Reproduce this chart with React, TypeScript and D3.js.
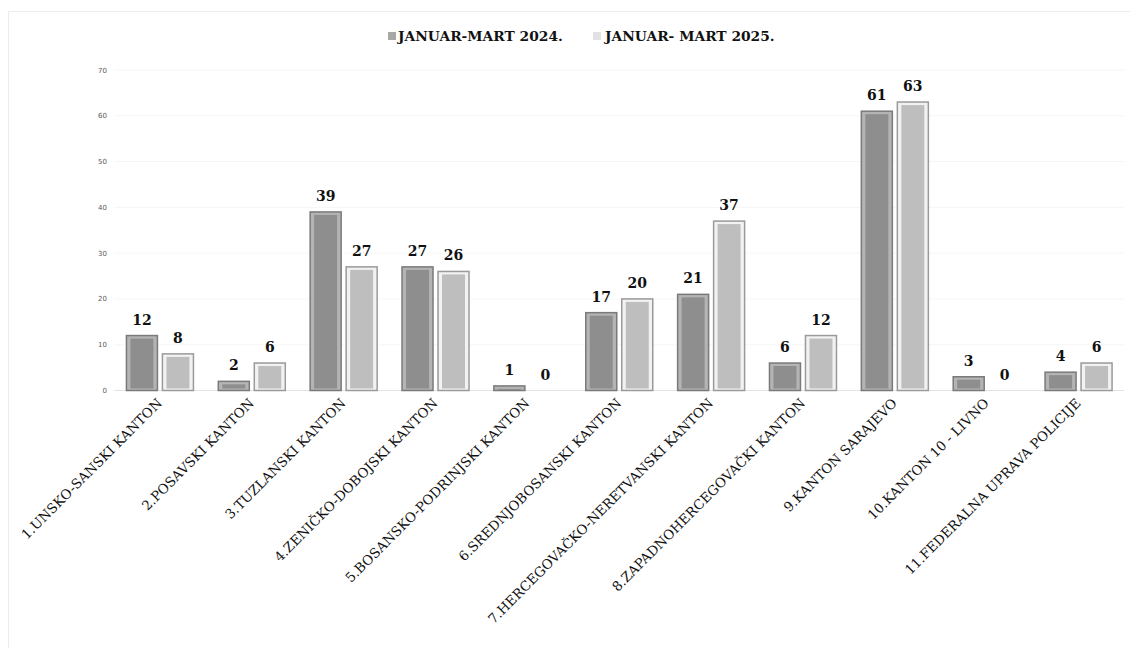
import React from 'react';
import * as d3 from 'd3';

const categories = [
  '1.UNSKO-SANSKI KANTON',
  '2.POSAVSKI KANTON',
  '3.TUZLANSKI KANTON',
  '4.ZENIČKO-DOBOJSKI KANTON',
  '5.BOSANSKO-PODRINJSKI KANTON',
  '6.SREDNJOBOSANSKI KANTON',
  '7.HERCEGOVAČKO-NERETVANSKI KANTON',
  '8.ZAPADNOHERCEGOVAČKI KANTON',
  '9.KANTON SARAJEVO',
  '10.KANTON 10 - LIVNO',
  '11.FEDERALNA UPRAVA POLICIJE',
];
const values2024 = [12, 2, 39, 27, 1, 17, 21, 6, 61, 3, 4];
const values2025 = [8, 6, 27, 26, 0, 20, 37, 12, 63, 0, 6];
const seriesNames = ['JANUAR-MART 2024.', 'JANUAR- MART 2025.'];
const yTicks = [0, 10, 20, 30, 40, 50, 60, 70];

const W = 1130;
const H = 648;
const serif = '"DejaVu Serif", "Liberation Serif", serif';

// per-series look: outer edge, light frame, inner fill
const styles = [
  { edge: '#7a7a7a', frame: '#b4b4b4', fill: '#8e8e8e' },
  { edge: '#9a9a9a', frame: '#f2f2f2', fill: '#bebebe' },
];

const App: React.FC = () => {
  const x = d3.scaleBand<string>().domain(categories).range([114, 1124.5]);
  const y = d3.scaleLinear().domain([0, 70]).range([390.5, 70]);
  const barW = 31;
  const gap = 5;
  const series = [values2024, values2025];

  return (
    <svg width={W} height={H} style={{ display: 'block', position: 'absolute', left: 0, top: 0 }}>
      <rect x={0} y={0} width={W} height={H} fill="#fff" />
      <rect x={8.5} y={11.5} width={W} height={H} fill="none" stroke="#ececec" />

      {/* legend */}
      <g fontFamily={serif} fontWeight="bold" fontSize={13.8} fill="#111">
        <rect x={388} y={32} width={8} height={8} fill="#a8a8a8" />
        <text x={398} y={41}>{seriesNames[0]}</text>
        <rect x={593} y={32} width={8} height={8} fill="#e2e2e2" />
        <text x={605} y={41}>{seriesNames[1]}</text>
      </g>

      {/* grid + y axis */}
      {yTicks.map((t) => (
        <g key={t}>
          <line x1={114} x2={1124} y1={y(t)} y2={y(t)} stroke={t === 0 ? '#e4e4e4' : '#f6f6f6'} />
          <text x={107} y={y(t) + 2.5} textAnchor="end" fontSize={7} fontFamily='"DejaVu Sans", sans-serif' fill="#5a5a5a">
            {t}
          </text>
        </g>
      ))}

      {/* bars */}
      {categories.map((c, i) => {
        const cx = (x(c) as number) + x.bandwidth() / 2;
        return (
          <g key={c}>
            {series.map((vals, s) => {
              const v = vals[i];
              const bx = s === 0 ? cx - gap / 2 - barW : cx + gap / 2;
              const top = y(v);
              const h = y(0) - top;
              const st = styles[s];
              return (
                <g key={s}>
                  {v > 0 && (
                    <>
                      <rect x={bx} y={top} width={barW} height={h} fill={st.frame} stroke={st.edge} strokeWidth={1.5} />
                      <rect
                        x={bx + 4}
                        y={top + 3}
                        width={barW - 8}
                        height={Math.max(h - 5, 1)}
                        fill={st.fill}
                      />
                    </>
                  )}
                  <text
                    x={bx + barW / 2}
                    y={top - 11}
                    textAnchor="middle"
                    fontFamily={serif}
                    fontWeight="bold"
                    fontSize={14}
                    fill="#111"
                  >
                    {v}
                  </text>
                </g>
              );
            })}
            <text
              transform={`translate(${cx + 3},${404}) rotate(-45)`}
              textAnchor="end"
              fontFamily={serif}
              fontSize={13.4}
              fill="#111"
            >
              {c}
            </text>
          </g>
        );
      })}
    </svg>
  );
};

export default App;
